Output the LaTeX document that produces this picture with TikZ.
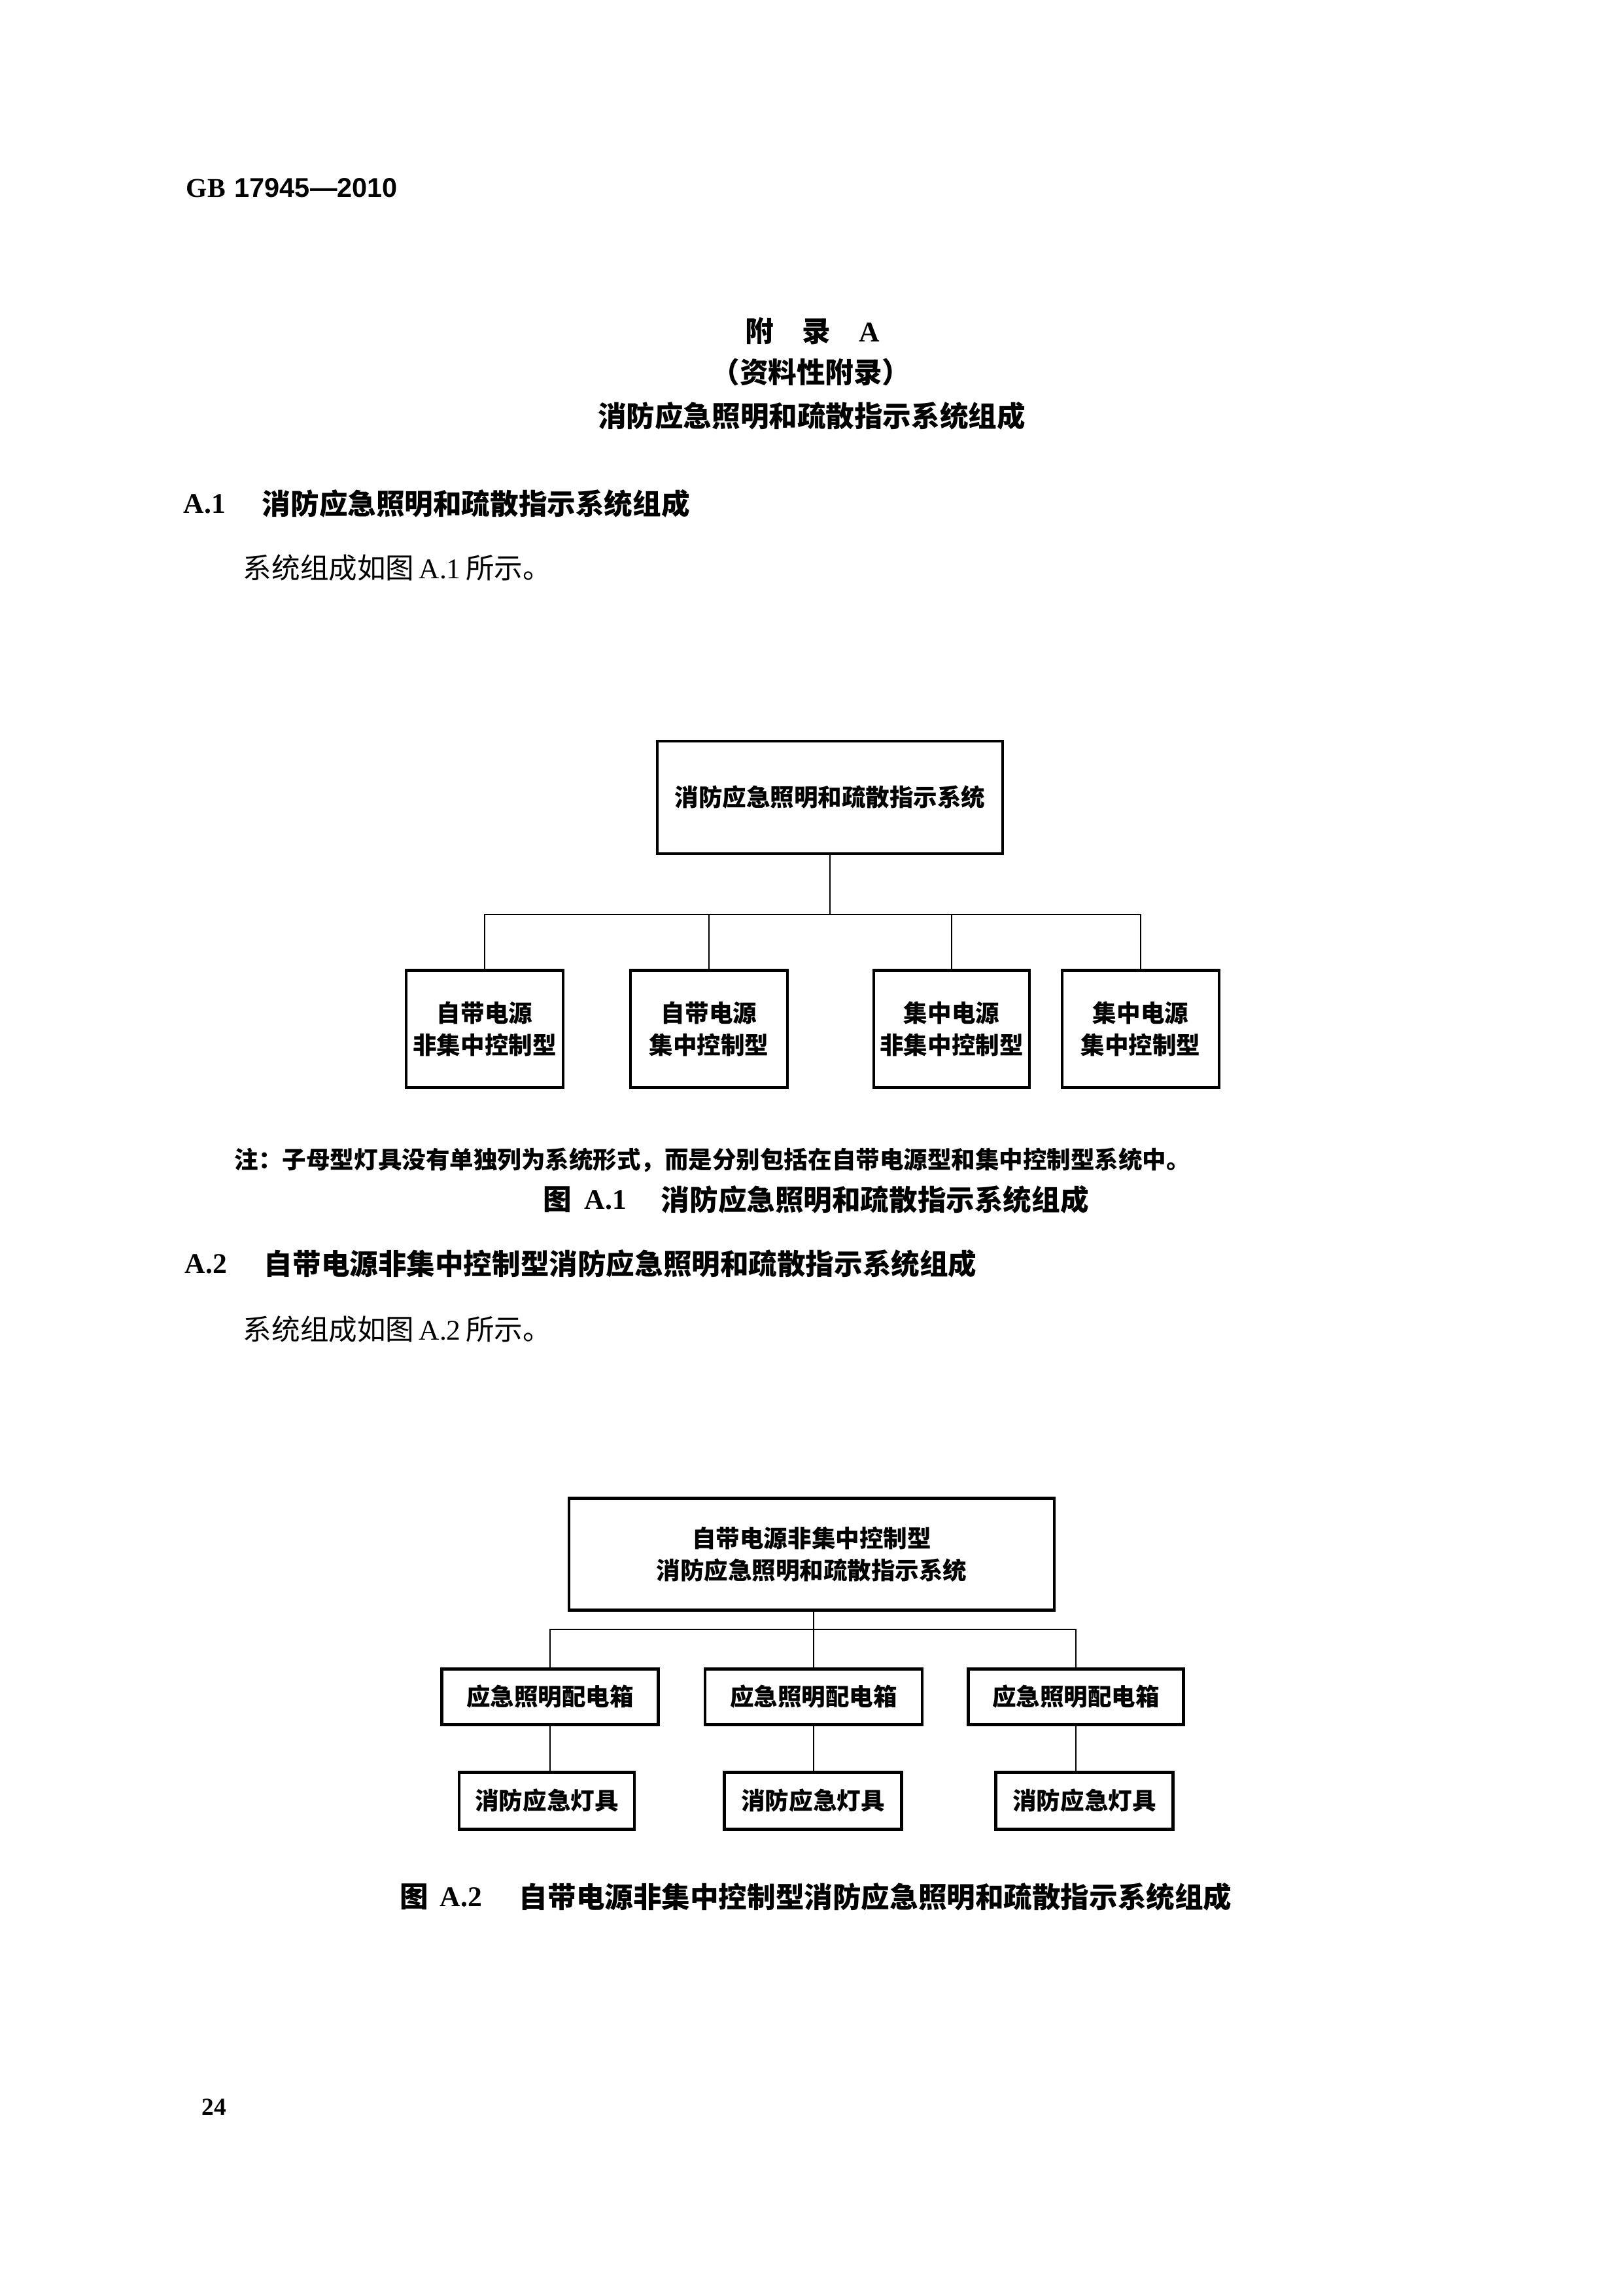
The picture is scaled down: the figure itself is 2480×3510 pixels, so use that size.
\documentclass[tikz,border=0pt]{standalone}
\usepackage{fontspec}
\newfontfamily\cjk{Noto Sans CJK SC}
\newfontfamily\tnr{Liberation Serif}
\newfontfamily\arl{Liberation Sans}
\def\pxu{0.0846774mm}
\tikzset{
  boxn/.style={draw, line width=1pt, inner sep=0pt, align=center,
    font=\cjk\bfseries\fontsize{8.8pt}{11.8pt}\selectfont},
  conn/.style={line width=0.6pt, line join=miter},
  txt/.style={inner sep=0pt, anchor=west},
  head/.style={inner sep=0pt, font=\cjk\bfseries\fontsize{10.5pt}{12pt}\selectfont},
  bodyt/.style={inner sep=0pt, anchor=west, font=\cjk\fontsize{10.5pt}{12pt}\selectfont},
}
\begin{document}
\begin{tikzpicture}[x=0.0846774mm, y=-0.0846774mm]
\fill[white] (0,0) rectangle (2480,3510);
\path[use as bounding box] (0,0) rectangle (2480,3510);

% page header
\node[txt, font=\fontsize{10pt}{12pt}\selectfont] (hdr) at (284,287) {{\tnr\bfseries GB}\ {\arl\bfseries 17945—2010}};

% appendix title
\node[head] (apx) at (1242,506) {附\hspace{1em}录\hspace{1em}{\tnr\bfseries A}};
\node[head] (apx2) at (1240,569) {（资料性附录）};
\node[head] (apx3) at (1241,636) {消防应急照明和疏散指示系统组成};

% A.1 heading
\node[head, anchor=west] (a1n) at (280,770) {{\tnr\bfseries A.1}};
\node[head, anchor=west] (a1t) at (400,770) {消防应急照明和疏散指示系统组成};
\node[bodyt] (a1b) at (371,868) {系统组成如图\,{\tnr A.1}\,所示。};

% Figure A.1
\node[boxn, minimum width={528*\pxu}, minimum height={172*\pxu}] (t1) at (1269,1219) {消防应急照明和疏散指示系统};
\node[boxn, minimum width={240*\pxu}, minimum height={179*\pxu}] (b1) at (741,1573) {自带电源\\非集中控制型};
\node[boxn, minimum width={240*\pxu}, minimum height={179*\pxu}] (b2) at (1084,1573) {自带电源\\集中控制型};
\node[boxn, minimum width={238*\pxu}, minimum height={179*\pxu}] (b3) at (1455,1573) {集中电源\\非集中控制型};
\node[boxn, minimum width={240*\pxu}, minimum height={179*\pxu}] (b4) at (1744,1573) {集中电源\\集中控制型};
\coordinate (j1) at (1269,1398);
\draw[conn] (t1.south) -- (j1);
\draw[conn] (b1.north) |- (b4.north |- j1) -- (b4.north);
\draw[conn] (b2.north) -- (b2.north |- j1);
\draw[conn] (b3.north) -- (b3.north |- j1);

\node[txt, font=\cjk\bfseries\fontsize{8.8pt}{11pt}\selectfont] (note) at (358,1773) {注：子母型灯具没有单独列为系统形式，而是分别包括在自带电源型和集中控制型系统中。};
\node[head, anchor=west] (c1a) at (830,1834) {图};
\node[head, anchor=west] (c1b) at (893,1834) {{\tnr\bfseries A.1}};
\node[head, anchor=west] (c1c) at (1010,1834) {消防应急照明和疏散指示系统组成};

% A.2 heading
\node[head, anchor=west] (a2n) at (282,1932) {{\tnr\bfseries A.2}};
\node[head, anchor=west] (a2t) at (403,1932) {自带电源非集中控制型消防应急照明和疏散指示系统组成};
\node[bodyt] (a2b) at (371,2032) {系统组成如图\,{\tnr A.2}\,所示。};

% Figure A.2
\node[boxn, minimum width={742*\pxu}, minimum height={171*\pxu}] (s) at (1241,2376) {自带电源非集中控制型\\消防应急照明和疏散指示系统};
\node[boxn, minimum width={331*\pxu}, minimum height={85*\pxu}] (m1) at (841,2594) {应急照明配电箱};
\node[boxn, minimum width={332*\pxu}, minimum height={85*\pxu}] (m2) at (1244,2594) {应急照明配电箱};
\node[boxn, minimum width={329*\pxu}, minimum height={85*\pxu}] (m3) at (1645,2594) {应急照明配电箱};
\node[boxn, minimum width={268*\pxu}, minimum height={87*\pxu}] (l1) at (836,2753) {消防应急灯具};
\node[boxn, minimum width={271*\pxu}, minimum height={87*\pxu}] (l2) at (1243,2753) {消防应急灯具};
\node[boxn, minimum width={271*\pxu}, minimum height={87*\pxu}] (l3) at (1658,2753) {消防应急灯具};
\coordinate (j2) at (1244,2491);
\draw[conn] (s.south -| j2) -- (j2);
\draw[conn] (m1.north) |- (m3.north |- j2) -- (m3.north);
\draw[conn] (m2.north) -- (m2.north |- j2);
\draw[conn] (m1.south) -- (m1.south |- l1.north);
\draw[conn] (m2.south) -- (m2.south |- l2.north);
\draw[conn] (m3.south) -- (m3.south |- l3.north);

\node[head, anchor=west] (c2a) at (611,2900) {图};
\node[head, anchor=west] (c2b) at (672,2900) {{\tnr\bfseries A.2}};
\node[head, anchor=west] (c2c) at (793,2900) {自带电源非集中控制型消防应急照明和疏散指示系统组成};

% page number
\node[txt, font=\tnr\bfseries\fontsize{9pt}{11pt}\selectfont] (pg) at (308,3221) {24};
\end{tikzpicture}
\end{document}
